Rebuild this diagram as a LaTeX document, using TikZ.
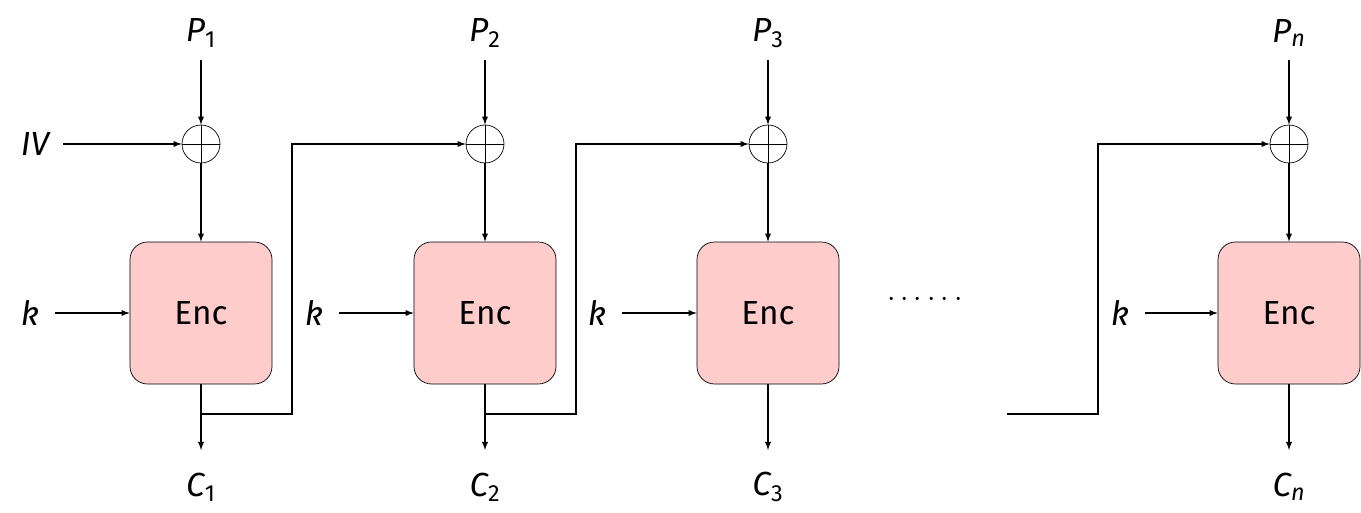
\documentclass[tikz,border=0pt]{standalone}
\usepackage{fontspec}
\setmainfont{Fira Sans}
\begin{document}
\begin{tikzpicture}[x=0.02cm,y=-0.02cm,
  enc/.style={draw,fill=red!20,rounded corners=10,minimum width=142*0.02cm,minimum height=142*0.02cm,inner sep=0,font=\fontsize{19}{22}\selectfont},
  xorc/.style={draw,circle,minimum size=38*0.02cm,inner sep=0,path picture={\draw (path picture bounding box.north)--(path picture bounding box.south) (path picture bounding box.west)--(path picture bounding box.east);}},
  lab/.style={font=\fontsize{19}{22}\selectfont\itshape,inner sep=1pt},
  arr/.style={-latex,semithick},
  ln/.style={semithick}]
\useasboundingbox (0,0) rectangle (1361,513);
\foreach \i/\x/\s in {1/201/1,2/485/2,3/768/3,4/1289/{\textit{n}}}{
  \node[enc] (e\i) at (\x,313) {Enc};
  \node[xorc] (x\i) at (\x,144) {};
  \node[lab] (p\i) at (\x,33) {P\textsubscript{\upshape\s}};
  \node[lab] (c\i) at (\x,487) {C\textsubscript{\upshape\s}};
  \coordinate (pt\i) at (\x,60);
  \coordinate (cb\i) at (\x,450);
  \draw[arr] (pt\i) -- (x\i);
  \draw[arr] (x\i) -- (e\i);
  \draw[arr] (e\i) -- (cb\i);
}
\foreach \i/\x in {1/30,2/314,3/597,4/1120}{
  \node[lab] (k\i) at (\x,313) {k};
  \coordinate (ks\i) at (\x+25,313);
  \draw[arr] (ks\i) -- (e\i.west);
}
\node[lab] (iv) at (35,144) {IV};
\draw[arr] (63,144) -- (x1);
\coordinate (a1) at (201,414); \coordinate (b1) at (292,414); \coordinate (t1) at (292,144);
\draw[arr,rounded corners=0] (a1) -- (b1) -- (t1) -- (x2);
\coordinate (a2) at (485,414); \coordinate (b2) at (576,414); \coordinate (t2) at (576,144);
\draw[arr] (a2) -- (b2) -- (t2) -- (x3);
\coordinate (a3) at (1007,414); \coordinate (b3) at (1098,414); \coordinate (t3) at (1098,144);
\draw[arr] (a3) -- (b3) -- (t3) -- (x4);
\node[font=\fontsize{19}{22}\selectfont] (dots) at (925,300) {$\cdots\cdots$};
\end{tikzpicture}
\end{document}
